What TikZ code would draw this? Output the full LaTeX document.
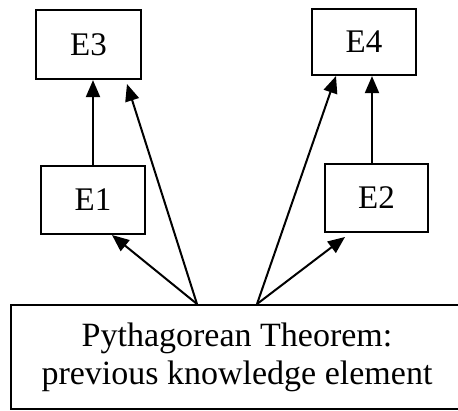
\documentclass[tikz,border=0pt]{standalone}
\usepackage{fontspec}
\setmainfont{Liberation Serif}
\usetikzlibrary{arrows.meta,calc}
\begin{document}
\begin{tikzpicture}[x=1pt,y=-1pt,
  ebox/.style={draw,line width=2.2pt,inner sep=0pt,font=\fontsize{33}{38}\selectfont},
  conn/.style={line width=2pt,-{Triangle[length=17pt,width=14pt]}}]
\useasboundingbox (0,0) rectangle (458,410);
\node[ebox,minimum width=105pt,minimum height=69pt] (E3) at (88.5,44.5) {E3};
\node[ebox,minimum width=104pt,minimum height=68pt] (E1) at (93,200) {E1};
\node[ebox,minimum width=104pt,minimum height=66pt] (E4) at (364,42) {E4};
\node[ebox,minimum width=103pt,minimum height=68pt] (E2) at (376.5,198) {E2};
\node[draw,line width=2.2pt,minimum width=452pt,minimum height=104pt,inner sep=0pt,align=center,
  font=\fontsize{34}{38}\selectfont] (P) at (237,357) {Pythagorean Theorem:\\previous knowledge element};
\coordinate (pl) at (197,304);
\coordinate (pr) at (257,304);
\coordinate (t3) at (127,84);
\coordinate (t1) at (112,235);
\coordinate (t4) at (336,76);
\coordinate (t2) at (345,237);
\draw[conn] (E1.north) -- (E1.north |- E3.south);
\draw[conn] ($(E2.north)+(-4.5,0)$) -- ($(E2.north |- E4.south)+(-4.5,0)$);
\draw[conn] (pl) -- (t3);
\draw[conn] (pl) -- (t1);
\draw[conn] (pr) -- (t4);
\draw[conn] (pr) -- (t2);
\end{tikzpicture}
\end{document}
